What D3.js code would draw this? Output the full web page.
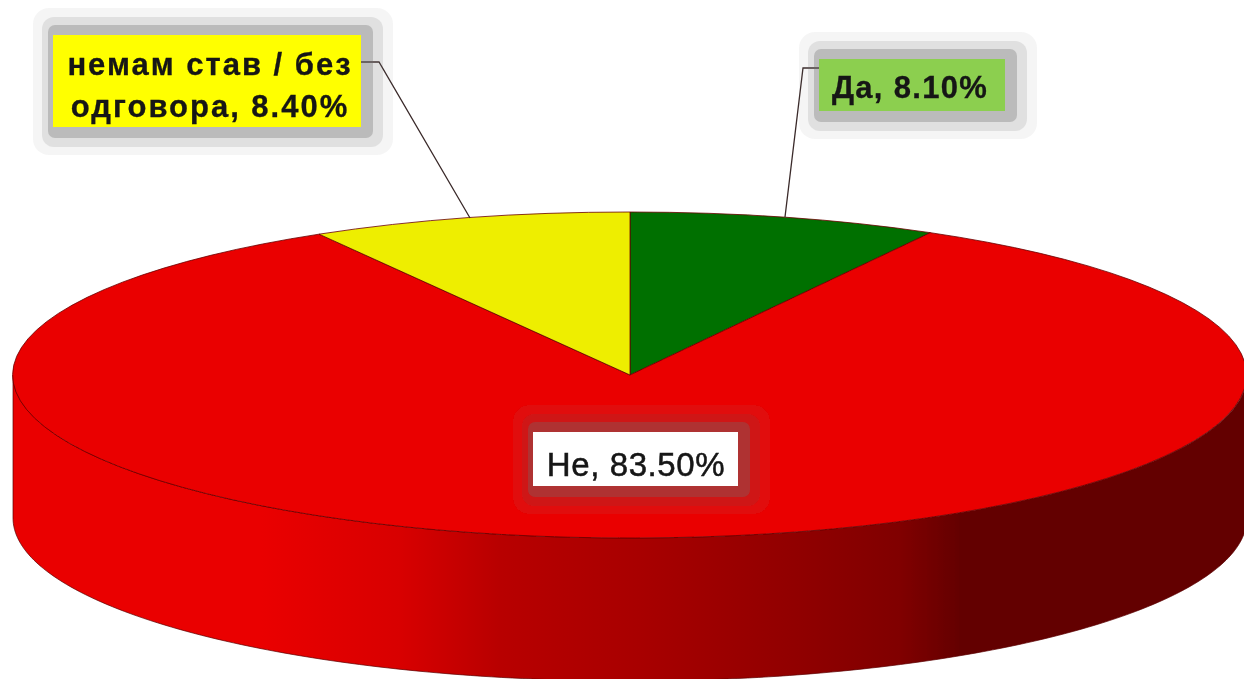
<!DOCTYPE html>
<html><head><meta charset="utf-8">
<script src="https://cdn.jsdelivr.net/npm/d3@7"></script>
<style>html,body{margin:0;padding:0;background:#fff;overflow:hidden}svg{display:block}</style>
</head><body>
<svg id="c" width="1244" height="679"></svg>
<script>
const categories = ["Да", "Не", "немам став / без одговора"];
const values = [8.1, 83.5, 8.4];
const sliceColors = ["#007000", "#ea0000", "#eeee00"];
const labelLines = [["Да, 8.10%"], ["Не, 83.50%"], ["немам став / без", "одговора, 8.40%"]];
const labelFills = ["#8ccf50", "#ffffff", "#ffff00"];

const W = 1244, H = 679;
const cx = 630, cy = 375, rx = 617, ry = 163, depth = 143;
const boxes = [
  {x:819,y:59,w:186,h:52,tx:910,base:[98],weight:"bold",size:31,ls:1.3,sw:0.3},
  {x:533,y:432,w:205,h:54,tx:636,base:[476],weight:"normal",size:33,ls:0.6,sw:0.5},
  {x:53,y:35,w:308,h:92,tx:210,base:[75,117],weight:"bold",size:31,ls:2,sw:0.3}
];
const leaders = [
  [[819,68],[803,68],[785,217]],
  null,
  [[361,62],[379,62],[470,218]]
];
const wallStops = [[0,"#ea0000"],[260,"#ea0000"],[400,"#d80000"],[500,"#b80000"],[640,"#a80000"],[800,"#900000"],[900,"#800000"],[960,"#640000"],[1244,"#640000"]];

const svg = d3.select("#c");
const defs = svg.append("defs");
const grad = defs.append("linearGradient").attr("id","wall").attr("gradientUnits","userSpaceOnUse")
  .attr("x1",0).attr("x2",W).attr("y1",0).attr("y2",0);
wallStops.forEach(s=>grad.append("stop").attr("offset",s[0]/W).attr("stop-color",s[1]));
defs.append("filter").attr("id","soft")
  .attr("filterUnits","userSpaceOnUse").attr("x",0).attr("y",0).attr("width",W).attr("height",H)
  .append("feGaussianBlur").attr("stdDeviation",0.6);

const root = svg.append("g").attr("filter","url(#soft)");
root.append("rect").attr("width",W).attr("height",H).attr("fill","#fff");

const pie = d3.pie().sort(null).startAngle(0).endAngle(2*Math.PI);
const arcs = pie(values);

// Front wall of the disc
const xs = d3.scaleLinear().domain([-1,1]).range([cx-rx,cx+rx]);
const ys = d3.scaleLinear().domain([-1,1]).range([cy-ry,cy+ry]);
const angles = d3.range(0,181).map(d=>d*Math.PI/180);
const wall = d3.area()
  .x(a=>xs(Math.cos(a)))
  .y0(a=>ys(Math.sin(a)))
  .y1(a=>ys(Math.sin(a))+depth);
root.append("path").attr("d",wall(angles)).attr("fill","url(#wall)")
  .attr("stroke","#5a0000").attr("stroke-width",0.7);

// Top of the disc
const arc = d3.arc().innerRadius(0).outerRadius(1);
const disc = root.append("g").attr("transform",`translate(${cx},${cy}) scale(${rx},${ry})`);
disc.selectAll("path").data(arcs).join("path")
  .attr("d",arc)
  .attr("fill",(d,i)=>sliceColors[i])
  .attr("stroke","#6a0000")
  .attr("stroke-width",0.8)
  .attr("vector-effect","non-scaling-stroke");

// Leader lines
const line = d3.line();
root.selectAll("path.leader").data(leaders.filter(Boolean)).join("path")
  .attr("class","leader").attr("d",line).attr("fill","none")
  .attr("stroke","#3a2a2a").attr("stroke-width",1.3);

// Labels
const rings = [
  {l:20,t:27,r:32,b:28,rad:16,o:0.07},
  {l:11,t:18,r:22,b:20,rad:12,o:0.15},
  {l:5,t:10,r:12,b:11,rad:7,o:0.32}
];
const lab = root.selectAll("g.lab").data(boxes).join("g").attr("class","lab");
rings.forEach(r=>{
  lab.append("rect")
    .attr("x",d=>d.x-r.l).attr("y",d=>d.y-r.t)
    .attr("width",d=>d.w+r.l+r.r).attr("height",d=>d.h+r.t+r.b)
    .attr("rx",r.rad).attr("fill","rgb(108,108,108)").attr("opacity",r.o);
});
lab.append("rect").attr("x",d=>d.x).attr("y",d=>d.y).attr("width",d=>d.w).attr("height",d=>d.h)
  .attr("fill",(d,i)=>labelFills[i]);
lab.each(function(d,i){
  const g=d3.select(this);
  labelLines[i].forEach((t,j)=>{
    g.append("text").attr("x",d.tx).attr("y",d.base[j]).attr("text-anchor","middle")
      .attr("font-family","'Liberation Sans',Arial,sans-serif")
      .attr("font-size",d.size).attr("font-weight",d.weight)
      .attr("letter-spacing",d.ls).attr("fill","#141414")
      .attr("stroke","#141414").attr("stroke-width",d.sw).text(t);
  });
});
</script>
</body></html>
